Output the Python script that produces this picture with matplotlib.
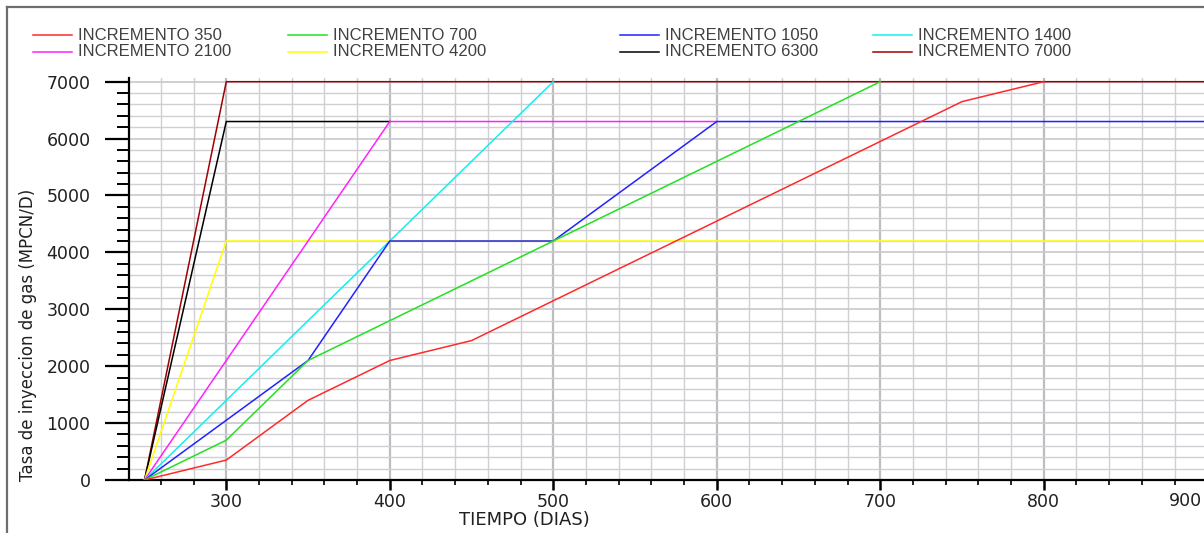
import matplotlib
matplotlib.use("Agg")
import matplotlib.pyplot as plt
from matplotlib.lines import Line2D
from matplotlib.ticker import MultipleLocator

# ---------------- data ----------------
labels = ["INCREMENTO 350", "INCREMENTO 700", "INCREMENTO 1050", "INCREMENTO 1400",
          "INCREMENTO 2100", "INCREMENTO 4200", "INCREMENTO 6300", "INCREMENTO 7000"]

days_350 = [250, 300, 350, 400, 450, 500, 750, 800]
rate_350 = [0, 350, 1400, 2100, 2450, 3150, 6650, 7000]

days_700 = [250, 300, 350, 400, 500, 600, 700]
rate_700 = [0, 700, 2100, 2800, 4200, 5600, 7000]

days_1050 = [250, 300, 350, 400, 500, 600, 920]
rate_1050 = [0, 1050, 2100, 4200, 4200, 6300, 6300]

days_1400 = [250, 300, 400, 500]
rate_1400 = [0, 1400, 4200, 7000]

days_2100 = [250, 300, 400, 600]
rate_2100 = [0, 2100, 6300, 6300]

days_4200 = [250, 300, 920]
rate_4200 = [0, 4200, 4200]

days_6300 = [250, 300, 400]
rate_6300 = [0, 6300, 6300]

days_7000 = [250, 300, 920]
rate_7000 = [0, 7000, 7000]

series_days = [days_350, days_700, days_1050, days_1400, days_2100, days_4200, days_6300, days_7000]
series_rate = [rate_350, rate_700, rate_1050, rate_1400, rate_2100, rate_4200, rate_6300, rate_7000]
colors = ["#ff2a2a", "#22e022", "#2222ff", "#10f0f0", "#ff22ff", "#ffff00", "#000000", "#a00000"]

x_major = [300, 400, 500, 600, 700, 800]
y_major = [0, 1000, 2000, 3000, 4000, 5000, 6000, 7000]

# ---------------- figure ----------------
W, H = 1204, 533
fig = plt.figure(figsize=(W / 100, H / 100), dpi=100)

def fx(px):
    return px / W

def fy(py):
    return 1 - py / H

ax = fig.add_axes([fx(129), fy(480), fx(1204) - fx(129), fy(78) - fy(480)])

for i, (d, r) in enumerate(zip(series_days, series_rate)):
    ax.plot(d, r, color=colors[i], lw=1.1, zorder=20 - i, solid_joinstyle="miter")

ax.set_xlim(240.5, 898)
ax.set_ylim(0, 7065)

ax.xaxis.set_major_locator(plt.FixedLocator(x_major))
ax.xaxis.set_minor_locator(MultipleLocator(20))
ax.yaxis.set_major_locator(plt.FixedLocator(y_major))
ax.yaxis.set_minor_locator(MultipleLocator(200))

ax.set_xticklabels([str(v) for v in x_major], color="#202020", fontfamily="DejaVu Sans", fontsize=12.5)
ax.set_yticklabels([str(v) for v in y_major], color="#202020", fontfamily="DejaVu Sans", fontsize=12.5)

ax.tick_params(axis="y", which="major", length=17.3, width=1.6, pad=10.5, color="#000000")
ax.tick_params(axis="y", which="minor", length=8.6, width=1.4, color="#000000")
ax.tick_params(axis="x", which="major", length=7.2, width=1.8, pad=2, color="#000000")
ax.tick_params(axis="x", which="minor", length=3.6, width=1.2, color="#000000")

ax.grid(which="minor", color="#cfcfd4", lw=1.0, zorder=0)
ax.xaxis.grid(which="major", color="#bdbdc2", lw=1.6, zorder=0)
ax.yaxis.grid(which="major", color="#c8c8cd", lw=1.2, zorder=0)
ax.set_axisbelow(True)

for s in ["top", "right"]:
    ax.spines[s].set_visible(False)
for s in ["left", "bottom"]:
    ax.spines[s].set_linewidth(1.6)
    ax.spines[s].set_color("#000000")

# last (partly cut) tick label
ax.text(0.998, -0.031, "900", transform=ax.transAxes, ha="right", va="top",
        color="#202020", fontfamily="DejaVu Sans", fontsize=12.5)

# axis titles
fig.text(fx(524), fy(520), "TIEMPO (DIAS)", ha="center", va="center",
         fontfamily="DejaVu Sans", fontsize=13, color="#202020")
fig.text(fx(28), fy(335), "Tasa de inyeccion de gas (MPCN/D)", ha="center", va="center",
         rotation=90, fontfamily="DejaVu Sans", fontsize=12, color="#202020")

# legend (manual, 4 columns x 2 rows)
col_x = [33, 288, 620, 873]
row_y = [35, 52]
for i, lab in enumerate(labels):
    r, c = divmod(i, 4)
    x0 = col_x[c]
    y0 = row_y[r]
    fig.add_artist(Line2D([fx(x0), fx(x0 + 39)], [fy(y0), fy(y0)], color=colors[i],
                          lw=1.1, transform=fig.transFigure))
    fig.text(fx(x0 + 45), fy(y0), lab, ha="left", va="center",
             fontfamily="Liberation Sans", fontsize=12, color="#404040")

# outer frame (left and top edges visible)
fig.add_artist(Line2D([fx(7), fx(7)], [0, fy(7)], color="#6e6e6e", lw=1.6, transform=fig.transFigure))
fig.add_artist(Line2D([fx(7), 1], [fy(7), fy(7)], color="#6e6e6e", lw=1.6, transform=fig.transFigure))

fig.savefig("out.png", dpi=100)
